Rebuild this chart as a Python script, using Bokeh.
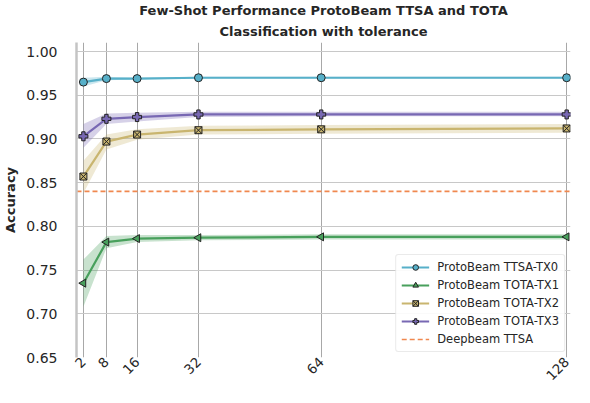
import math
from bokeh.plotting import figure
from bokeh.models import Range1d, FixedTicker, Title, Legend, LegendItem, PrintfTickFormatter
from bokeh.embed import file_html
from bokeh.resources import INLINE

shots = [2, 8, 16, 32, 64, 128]
tick_labels = ["2", "8", "16", "32", "64", "128"]

tx0_mean = [0.965, 0.969, 0.969, 0.970, 0.970, 0.970]
tx0_low = [0.960, 0.967, 0.968, 0.969, 0.969, 0.969]
tx0_high = [0.970, 0.971, 0.970, 0.971, 0.971, 0.971]

tx1_mean = [0.735, 0.782, 0.786, 0.787, 0.788, 0.788]
tx1_low = [0.708, 0.775, 0.782, 0.784, 0.785, 0.785]
tx1_high = [0.762, 0.789, 0.790, 0.790, 0.791, 0.791]

tx2_mean = [0.857, 0.897, 0.905, 0.910, 0.911, 0.912]
tx2_low = [0.838, 0.888, 0.899, 0.905, 0.906, 0.907]
tx2_high = [0.875, 0.905, 0.911, 0.915, 0.916, 0.917]

tx3_mean = [0.903, 0.923, 0.925, 0.928, 0.928, 0.928]
tx3_low = [0.890, 0.917, 0.920, 0.925, 0.926, 0.926]
tx3_high = [0.917, 0.929, 0.930, 0.931, 0.931, 0.931]

deepbeam = 0.84

title_lines = ["Few-Shot Performance ProtoBeam TTSA and TOTA",
               "Classification with tolerance"]
labels = ["ProtoBeam TTSA-TX0", "ProtoBeam TOTA-TX1", "ProtoBeam TOTA-TX2",
          "ProtoBeam TOTA-TX3", "Deepbeam TTSA"]
colors = ["#57b0c9", "#48a05c", "#c9b56f", "#7868b3", "#f0884f"]

FONT = "DejaVu Sans"

p = figure(width=574, height=387, output_backend="svg", toolbar_location=None,
           x_range=Range1d(0.2, 129.0), y_range=Range1d(0.65, 1.0103),
           min_border_left=68, min_border_right=4, min_border_bottom=0,
           min_border_top=7)
p.outline_line_color = None
p.background_fill_color = "white"

p.add_layout(Title(text=title_lines[1], align="center",
                   text_font=FONT, text_font_size="13px", text_font_style="bold",
                   text_color="#262626", standoff=8), "above")
p.add_layout(Title(text=title_lines[0], align="center",
                   text_font=FONT, text_font_size="13px", text_font_style="bold",
                   text_color="#262626", standoff=0), "above")

# axes
p.xaxis.ticker = FixedTicker(ticks=shots)
p.xaxis.major_label_overrides = {s: l for s, l in zip(shots, tick_labels)}
p.xaxis.major_label_orientation = math.pi / 4
p.xaxis.axis_line_color = None
p.xaxis.major_tick_line_color = None
p.xaxis.minor_tick_line_color = None
p.xaxis.major_tick_in = 0
p.xaxis.major_tick_out = 0
p.xaxis.major_label_text_font = FONT
p.xaxis.major_label_text_font_size = "13.5px"
p.xaxis.major_label_text_color = "#262626"
p.xaxis.major_label_standoff = 2

p.yaxis.ticker = FixedTicker(ticks=[0.65, 0.70, 0.75, 0.80, 0.85, 0.90, 0.95, 1.00])
p.yaxis.formatter = PrintfTickFormatter(format="%.2f")
p.yaxis.axis_line_color = "#c4c4c4"
p.yaxis.axis_line_width = 2.5
p.yaxis.major_tick_line_color = None
p.yaxis.minor_tick_line_color = None
p.yaxis.major_label_text_font = FONT
p.yaxis.major_label_text_font_size = "14px"
p.yaxis.major_label_text_color = "#262626"
p.yaxis.major_label_standoff = 13
p.yaxis.axis_label = "Accuracy"
p.yaxis.axis_label_text_font = FONT
p.yaxis.axis_label_text_font_size = "13px"
p.yaxis.axis_label_text_font_style = "bold"
p.yaxis.axis_label_text_color = "#262626"
p.yaxis.axis_label_standoff = 5

p.xgrid.grid_line_color = "#a8a8a8"
p.xgrid.grid_line_width = 1
p.ygrid.grid_line_color = "#c8c8c8"
p.ygrid.grid_line_width = 1

series = [
    (tx0_mean, tx0_low, tx0_high, "circle", 8, 0),
    (tx1_mean, tx1_low, tx1_high, "triangle", 8, math.pi / 2),
    (tx2_mean, tx2_low, tx2_high, "square_x", 7, 0),
    (tx3_mean, tx3_low, tx3_high, "plus", 9, 0),
]

items = []
for i, (m, lo, hi, mk, sz, ang) in enumerate(series):
    c = colors[i]
    p.varea(x=shots, y1=lo, y2=hi, fill_color=c, fill_alpha=0.3)
    r1 = p.line(x=shots, y=m, line_color=c, line_width=2.2)
    r2 = p.scatter(x=shots, y=m, marker=mk, size=sz, angle=ang,
                   fill_color=c, line_color="#222222", line_width=1)
    items.append(LegendItem(label=labels[i], renderers=[r1, r2]))

xr = p.x_range
r_db = p.line(x=[xr.start, xr.end], y=[deepbeam, deepbeam], line_color=colors[4],
              line_dash="5 3", line_width=1.6)
items.append(LegendItem(label=labels[4], renderers=[r_db]))

legend = Legend(items=items, location="bottom_right")
legend.label_text_font = FONT
legend.label_text_font_size = "11.5px"
legend.label_text_color = "#262626"
legend.label_standoff = 8
legend.glyph_width = 28
legend.glyph_height = 14
legend.label_height = 14
legend.spacing = 4
legend.padding = 5
legend.margin = 5
legend.border_line_color = "#d6d6d6"
legend.border_line_width = 1
legend.border_radius = 3
legend.background_fill_alpha = 0.9
p.add_layout(legend)

open("out.html", "w").write(file_html(p, INLINE))
